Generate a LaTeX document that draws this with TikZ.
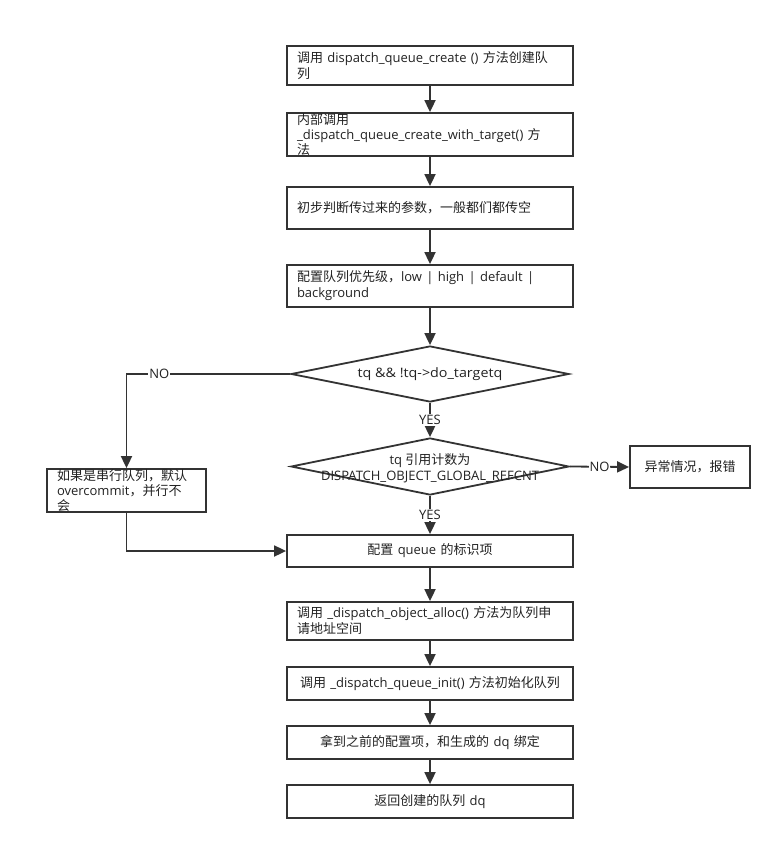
\documentclass[tikz,border=0pt]{standalone}
\usepackage{fontspec}
\usepackage{graphicx}
\setmainfont{Noto Sans CJK SC}
\newfontfamily\latfont{Open Sans}
\newcommand\ltn[1]{{\latfont #1}}
\usetikzlibrary{shapes.geometric,arrows.meta}
\definecolor{lc}{HTML}{333333}
\definecolor{tc}{HTML}{222222}
\begin{document}
\begin{tikzpicture}[x=1pt,y=-1pt,
  every node/.style={text=tc},
  box/.style={draw=lc, line width=1.8pt, minimum width=286pt, text width=266pt,
    inner xsep=10pt, inner ysep=0pt, font=\fontsize{13}{16}\selectfont},
  lbox/.style={box, align=left},
  cbox/.style={box, align=center},
  dia/.style={draw=lc, line width=1.8pt, diamond, inner sep=0pt,
    minimum width=278pt, minimum height=56pt},
  dtext/.style={font=\fontsize{13}{16}\selectfont, align=center, inner sep=0pt},
  lbl/.style={font=\latfont\fontsize{13}{16}\selectfont, fill=white, inner sep=1pt},
  arr/.style={draw=lc, line width=1.8pt, -{Triangle[length=12pt,width=11pt]}}
]
\useasboundingbox (0,0) rectangle (782,850);
\fill[white] (0,0) rectangle (782,850);

\node[lbox, minimum height=39pt] (b1) at (430,65.5) {调用\ltn{ dispatch\_queue\_create () }方法创建队\\列};
\node[lbox, minimum height=43pt, font=\fontsize{13}{15}\selectfont] (b2) at (430,134.5) {内部调用\\\ltn{\_dispatch\_queue\_create\_with\_target() }方\\法};
\node[lbox, minimum height=42pt] (b3) at (430,208) {初步判断传过来的参数，一般都们都传空};
\node[lbox, minimum height=42pt] (b4) at (430,286) {配置队列优先级，\ltn{low | high | default |}\\\ltn{background}};
\node[dia] (d1) at (430,374) {};
\node[dtext] (t1) at (d1.center) {\scalebox{1.1}[1]{\ltn{tq \&\& !tq->do\_targetq}}};
\node[dia, minimum height=57pt] (d2) at (430,466.5) {};
\node[dtext] (t2) at (430,468) {\ltn{tq }引用计数为\\\ltn{DISPATCH\_OBJECT\_GLOBAL\_REFCNT}};
\node[draw=lc, line width=1.8pt, minimum width=120pt, minimum height=42pt, inner sep=0pt,
  font=\fontsize{13}{16}\selectfont] (e) at (690,467) {异常情况，报错};
\node[draw=lc, line width=1.8pt, minimum width=159pt, minimum height=43pt, text width=139pt,
  inner xsep=10pt, inner ysep=0pt, align=left, font=\fontsize{13}{15}\selectfont]
  (l) at (126.5,490.5) {如果是串行队列，默认\\\ltn{overcommit}，并行不\\会};
\node[cbox, minimum height=32pt] (q) at (430,551) {配置\ltn{ queue }的标识项};
\node[lbox, minimum height=38pt] (a) at (430,621) {调用\ltn{ \_dispatch\_object\_alloc() }方法为队列申\\请地址空间};
\node[cbox, minimum height=33pt] (i) at (430,683.5) {调用\ltn{ \_dispatch\_queue\_init() }方法初始化队列};
\node[cbox, minimum height=33pt] (g) at (430,742.5) {拿到之前的配置项，和生成的\ltn{ dq }绑定};
\node[cbox, minimum height=33pt] (r) at (430,801.5) {返回创建的队列\ltn{ dq}};

\draw[arr] (b1) -- (b2);
\draw[arr] (b2) -- (b3);
\draw[arr] (b3) -- (b4);
\draw[arr] (b4) -- (d1);
\draw[arr] (d1.west) -| node[lbl, pos=0.4] {NO} (l.north);
\draw[arr] (d1.south) -- node[lbl] {YES} (d2.north);
\draw[arr] (d2.east) -- node[lbl] {NO} (e.west);
\draw[arr] (d2.south) -- node[lbl] {YES} (q.north);
\draw[arr] (l.south) |- (q.west);
\draw[arr] (q) -- (a);
\draw[arr] (a) -- (i);
\draw[arr] (i) -- (g);
\draw[arr] (g) -- (r);
\end{tikzpicture}
\end{document}
